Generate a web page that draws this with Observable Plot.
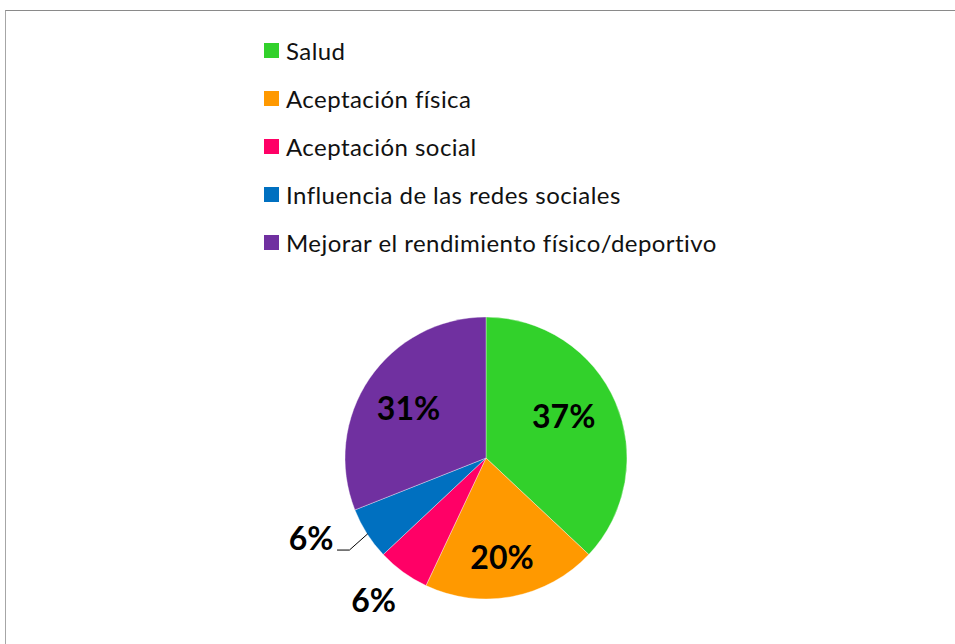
<!DOCTYPE html>
<html><head><meta charset="utf-8">
<script src="https://cdn.jsdelivr.net/npm/d3@7"></script>
<script src="https://cdn.jsdelivr.net/npm/@observablehq/plot@0.6"></script>
<style>
body{margin:0;background:#fff;font-family:Lato,"Open Sans",sans-serif;}
#wrap{position:relative;width:955px;height:644px;overflow:hidden;}
#frame{position:absolute;left:5px;top:10px;width:980px;height:700px;border-top:1px solid #8a8a8a;border-left:1.5px solid #a6a6a6;pointer-events:none;}
#legend{position:absolute;left:264px;top:0;height:270px;padding-top:26px;box-sizing:border-box;}
.row{display:flex;align-items:center;white-space:nowrap;height:48px;font-size:24px;letter-spacing:0.45px;color:#111;}
.row span.sw{display:inline-block;width:15px;height:15px;margin-right:7px;flex:none;}
#chart{position:absolute;left:0;top:270px;}
</style></head>
<body>
<div id="wrap">
  <div id="frame"></div>
  <div id="legend"></div>
  <div id="chart"></div>
</div>
<script>
const categories = ["Salud","Aceptación física","Aceptación social","Influencia de las redes sociales","Mejorar el rendimiento físico/deportivo"];
const values = [37,20,6,6,31];
const labels = ["37%","20%","6%","6%","31%"];
const colors = ["#32D12B","#FF9900","#FF0066","#0070C0","#7030A0"];

// legend
const leg = document.getElementById("legend");
categories.forEach((c,i)=>{
  const r = document.createElement("div"); r.className="row";
  const s = document.createElement("span"); s.className="sw"; s.style.background=colors[i];
  r.appendChild(s); r.appendChild(document.createTextNode(c));
  leg.appendChild(r);
});

// layout (pixels)
const W = 955, H = 374, R = 141, CX = 486, CY = 188;
const data = categories.map((c,i)=>({category:c, value:values[i], label:labels[i], color:colors[i]}));
const arcs = d3.pie().sort(null).value(d=>d.value)(data);
const labelR = [0.62, 0.70, 1.29, null, 0.66];
const nudgeX = [-3, -3, -6, 0, -1];   // px
const nudgeY = [-6, 3, -4, 0, 4];     // px (down positive)
const mid = a => (a.startAngle + a.endAngle)/2;

const inside = arcs.map((a,i)=>({...a.data, r:labelR[i], ang:mid(a), nx:nudgeX[i], ny:nudgeY[i]})).filter(d=>d.r!=null);
// leader-line label (blue slice)
const li = 3, la = mid(arcs[li]);
const P = {x:Math.sin(la), y:Math.cos(la)};
const E = {x:P.x - 18/R, y:P.y - 16/R};
const F = {x:E.x - 12/R, y:E.y};
const leader = [P,E,F];
const outLabel = [{x:F.x - 4/R, y:F.y + 10/R, label:arcs[li].data.label}];

const pieMark = (index, scales) => {
  const x0 = scales.x(0), y0 = scales.y(0), rr = scales.x(1) - scales.x(0);
  const arc = d3.arc().innerRadius(0).outerRadius(rr);
  const g = d3.create("svg:g").attr("transform", `translate(${x0},${y0})`);
  g.selectAll("path").data(arcs).join("path")
    .attr("d", arc).attr("fill", d=>d.data.color)
    .attr("stroke", "#ffffff").attr("stroke-opacity",0.6).attr("stroke-width", 0.6);
  return g.node();
};

const chart = Plot.plot({
  width: W, height: H, margin: 0,
  x: {domain: [-CX/R, (W-CX)/R], axis: null},
  y: {domain: [-(H-CY)/R, CY/R], axis: null},
  style: {fontFamily: "Lato, 'Open Sans', sans-serif", background: "transparent"},
  marks: [
    pieMark,
    Plot.line(leader, {x:"x", y:"y", stroke:"#000", strokeWidth:1}),
    Plot.text(inside, {x:d=>d.r*Math.sin(d.ang) + d.nx/R, y:d=>d.r*Math.cos(d.ang) - d.ny/R, text:"label",
      fontSize:32, fontWeight:"bold", fill:"#000"}),
    Plot.text(outLabel, {x:"x", y:"y", text:"label", textAnchor:"end",
      fontSize:32, fontWeight:"bold", fill:"#000"})
  ]
});
document.getElementById("chart").appendChild(chart);
</script>
</body></html>
